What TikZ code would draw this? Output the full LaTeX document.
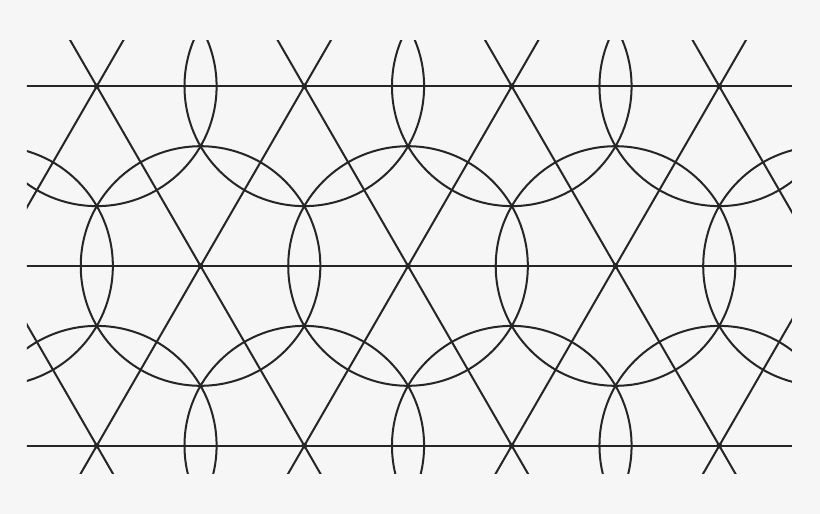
\documentclass[tikz,border=0pt]{standalone}
\definecolor{linegray}{RGB}{38,38,38}
\definecolor{paper}{RGB}{246,246,246}

\begin{document}
\begin{tikzpicture}[line width=0.55pt, color=linegray]

	\path[use as bounding box, fill=paper] (-3.933,-2.390) rectangle (3.971,2.564);
	\clip (-3.675,-2.0) rectangle (3.699,2.178);

	% horizontal lines
	\draw (-4.5,1.732) -- (4.5,1.732);
	\draw (-4.5,0) -- (4.5,0);
	\draw (-4.5,-1.732) -- (4.5,-1.732);

	% slanted lines through the middle row
	\draw (-4,0) ++(240:3) -- ++(60:6) (-4,0) ++(300:3) -- ++(120:6);
	\draw (-2,0) ++(240:3) -- ++(60:6) (-2,0) ++(300:3) -- ++(120:6);
	\draw (0,0) ++(240:3) -- ++(60:6) (0,0) ++(300:3) -- ++(120:6);
	\draw (2,0) ++(240:3) -- ++(60:6) (2,0) ++(300:3) -- ++(120:6);
	\draw (4,0) ++(240:3) -- ++(60:6) (4,0) ++(300:3) -- ++(120:6);

	% circles round the vertices
	\draw (-3,1.732) circle (1.1547) (-1,1.732) circle (1.1547) (1,1.732) circle (1.1547) (3,1.732) circle (1.1547);
	\draw (-4,0) circle (1.1547) (-2,0) circle (1.1547) (0,0) circle (1.1547) (2,0) circle (1.1547) (4,0) circle (1.1547);
	\draw (-3,-1.732) circle (1.1547) (-1,-1.732) circle (1.1547) (1,-1.732) circle (1.1547) (3,-1.732) circle (1.1547);

	% vertices
	\fill (-3,1.732) circle (0.8pt) (-1,1.732) circle (0.8pt) (1,1.732) circle (0.8pt) (3,1.732) circle (0.8pt);
	\fill (-2,0) circle (0.8pt) (0,0) circle (0.8pt) (2,0) circle (0.8pt);
	\fill (-3,-1.732) circle (0.8pt) (-1,-1.732) circle (0.8pt) (1,-1.732) circle (0.8pt) (3,-1.732) circle (0.8pt);
%	\fill (-4,0) circle (0.8pt);
\end{tikzpicture}
\end{document}
